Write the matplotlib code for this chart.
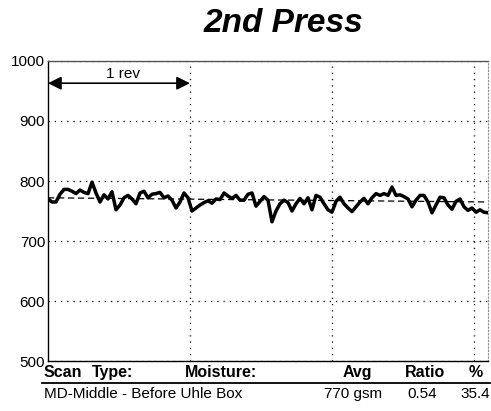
import numpy as np
import matplotlib
matplotlib.use("Agg")
import matplotlib.pyplot as plt

plt.rcParams['font.family'] = ['Liberation Sans', 'DejaVu Sans']

# basis weight trace, one sample every ~0.028 rev
weight = [770, 765, 765, 778, 786, 786, 783, 779, 785, 781,
          779, 798, 780, 765, 777, 770, 782, 752, 760, 772,
          776, 770, 762, 780, 783, 772, 778, 779, 781, 772,
          775, 768, 755, 765, 780, 772, 750, 755, 760, 764,
          767, 763, 770, 769, 780, 775, 771, 776, 768, 768,
          778, 780, 758, 766, 774, 768, 732, 750, 762, 768,
          764, 750, 762, 771, 762, 772, 752, 776, 773, 762,
          752, 748, 766, 773, 762, 755, 749, 757, 765, 771,
          762, 772, 779, 776, 779, 776, 790, 776, 777, 774,
          770, 757, 768, 776, 776, 765, 747, 760, 773, 772,
          760, 753, 766, 770, 757, 751, 755, 748, 752, 748, 747]
trend = [772, 765]          # dashed average line, start / end
rev_span = 3.1
yticks = [500, 600, 700, 800, 900, 1000]

header = [("Scan", 44, 'left'), ("Type:", 92, 'left'), ("Moisture:", 185, 'left'),
          ("Avg", 372, 'right'), ("Ratio", 445, 'right'), ("%", 483, 'right')]
row = [("MD-Middle - Before Uhle Box", 44, 'left'), ("770 gsm", 382, 'right'),
       ("0.54", 437, 'right'), ("35.4", 490, 'right')]

W, H = 491, 411
fig = plt.figure(figsize=(W / 100, H / 100), dpi=100)
ax = fig.add_axes([48 / W, 1 - 361 / H, 440 / W, 300 / H])

x = np.linspace(0, rev_span, len(weight))
ax.plot(x, weight, color='black', lw=2.5, solid_joinstyle='round')
ax.plot([0, rev_span], trend, color='black', lw=0.9, ls=(0, (5, 3)))

ax.set_xlim(0, rev_span)
ax.set_ylim(500, 1000)
ax.set_yticks(yticks)
ax.set_xticks([1, 2, 3])
ax.set_xticklabels([])
ax.tick_params(length=0, labelsize=11, pad=2)
ax.grid(True, color='black', ls=(0, (1, 4)), lw=0.9)

for side in ['left', 'bottom', 'top']:
    ax.spines[side].set_linewidth(1.0)
ax.spines['top'].set_color('#555555')
ax.spines['right'].set_linestyle((0, (1, 2)))
ax.spines['right'].set_color('#888888')

# one revolution marker
ax.annotate('', xy=(0, 963), xytext=(1, 963),
            arrowprops=dict(arrowstyle='<|-|>', color='black', lw=1.2,
                            mutation_scale=20, shrinkA=0, shrinkB=0))
ax.text(0.53, 966, '1 rev', ha='center', va='bottom', fontsize=11)

fig.text(283 / W, 1 - 23 / H, '2nd Press', ha='center', va='center',
         fontsize=24, fontweight='bold', fontstyle='italic')

# summary table under the chart
for label, px, ha in header:
    fig.text(px / W, 1 - 372 / H, label, ha=ha, va='center',
             fontsize=11.5, fontweight='bold')
for label, px, ha in row:
    fig.text(px / W, 1 - 394 / H, label, ha=ha, va='center', fontsize=11)
fig.add_artist(plt.Line2D([42 / W, 490 / W], [1 - 383 / H, 1 - 383 / H],
                          color='black', lw=1.3))

fig.savefig('out.png', dpi=100)
